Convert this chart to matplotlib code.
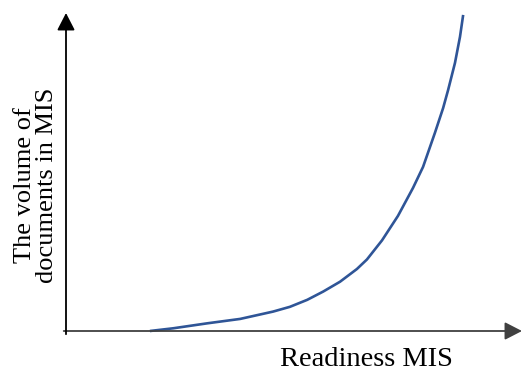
import matplotlib
matplotlib.use("Agg")
import matplotlib.pyplot as plt

# Data (arbitrary units, 0-100 on both axes)
readiness = [18.4, 23.5, 30.9, 38.2, 45.4, 49.1, 52.9, 56.4, 60.1, 63.8, 66.0,
             69.3, 72.8, 76.1, 78.3, 80.9, 82.7, 83.8, 85.3, 86.4, 87.1]
volume = [0.0, 0.85, 2.4, 3.8, 6.1, 7.6, 9.8, 12.4, 15.5, 19.5, 22.5,
          28.5, 36.2, 45.0, 51.6, 62.3, 70.1, 75.8, 84.3, 92.5, 99.4]

x_label = "Readiness MIS"
y_label = "The volume of\ndocuments in MIS"

plt.rcParams['font.family'] = ['Liberation Serif', 'DejaVu Serif']

W, H = 523, 374
fig = plt.figure(figsize=(W / 100, H / 100), dpi=100)
ax = fig.add_axes([66 / W, (H - 331) / H, 456 / W, 318 / H])
ax.set_xlim(0, 100)
ax.set_ylim(0, 100)
ax.axis('off')

# axes with arrows
ax.annotate('', xy=(100, 0), xytext=(-0.5, 0), xycoords='data',
            arrowprops=dict(arrowstyle='-|>,head_length=0.7,head_width=0.36',
                            mutation_scale=15, lw=1.3, color='#404040',
                            shrinkA=0, shrinkB=0), annotation_clip=False)
ax.annotate('', xy=(0, 100), xytext=(0, -1.0), xycoords='data',
            arrowprops=dict(arrowstyle='-|>,head_length=0.7,head_width=0.36',
                            mutation_scale=15, lw=1.3, color='black',
                            shrinkA=0, shrinkB=0), annotation_clip=False)

ax.plot(readiness, volume, color='#2F5597', lw=1.9, solid_joinstyle='round',
        solid_capstyle='butt', clip_on=False)

fig.text(366 / W, 1 - 360 / H, x_label, ha='center', va='center', fontsize=20.5)
fig.text(36 / W, 1 - 185 / H, y_label, ha='center', va='center', rotation=90,
         multialignment='center', fontsize=19, linespacing=1.05)

fig.savefig('out.png', dpi=100)
